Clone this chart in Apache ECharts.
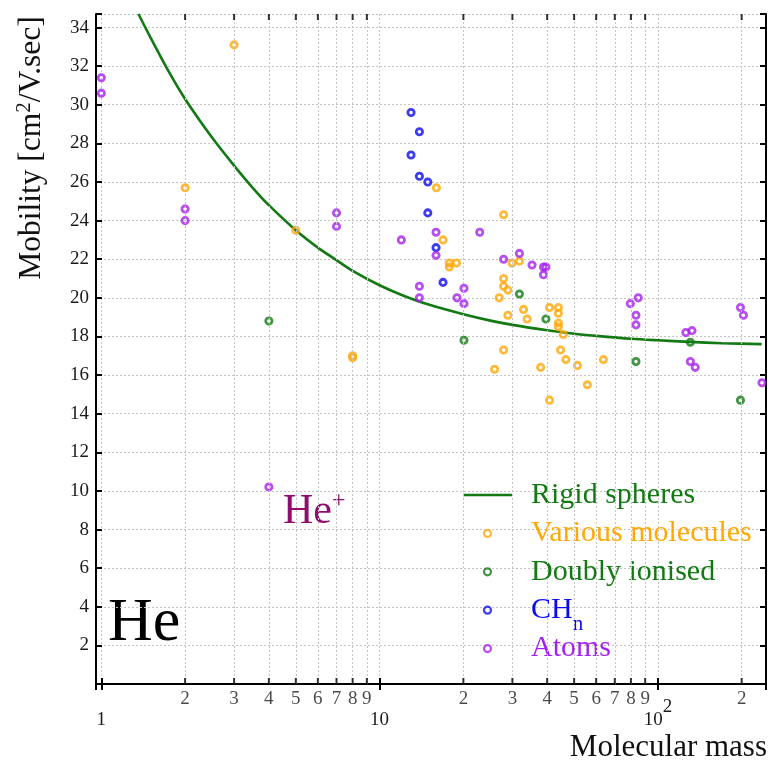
<!DOCTYPE html>
<html>
<head>
<meta charset="utf-8">
<script src="https://cdn.jsdelivr.net/npm/echarts@6/dist/echarts.min.js"></script>
<style>
html, body { margin: 0; padding: 0; background: #fff; }
#chart { width: 771px; height: 761px; }
</style>
</head>
<body>
<div id="chart"></div>
<script>
const serif = "'Liberation Serif', 'DejaVu Serif', serif"

// axis ranges
const xMin = 0.957
const xMax = 244.6
const yMin = 0
const yMax = 34.7

// minor decade ticks and their labels
const minorTicks = [2, 3, 4, 5, 6, 7, 8, 9, 20, 30, 40, 50, 60, 70, 80, 90, 200]
const minorTickLabels = ["2", "3", "4", "5", "6", "7", "8", "9", "2", "3", "4", "5", "6", "7", "8", "9", "2"]

// rigid spheres curve
const curveMass = [1.36, 1.5, 1.75, 2, 2.5, 3, 3.5, 4, 5, 6, 7, 8, 10, 12, 15, 20, 25, 30, 40, 50, 60, 80, 100, 130, 170, 236]
const curveMobility = [34.7, 33.5, 31.7, 30.3, 28.3, 26.85, 25.7, 24.8, 23.5, 22.6, 21.95, 21.4, 20.65, 20.15, 19.65, 19.15, 18.82, 18.6, 18.32, 18.14, 18.03, 17.88, 17.8, 17.72, 17.65, 17.6]

// various molecules
const molMass = [2, 3, 5, 8, 8, 16, 16.9, 17.8, 17.8, 18.9, 27.9, 27.9, 27.9, 28.9, 26.9, 28.9, 27.9, 25.9, 29.9, 31.8, 32.9, 33.9, 37.9, 40.8, 40.8, 43.9, 43.9, 43.9, 43.9, 45.7, 44.7, 46.7, 51.4, 55.8, 63.7]
const molMobility = [25.7, 33.1, 23.5, 17.0, 16.9, 25.7, 23.0, 21.8, 21.6, 21.8, 24.3, 21.0, 20.6, 20.4, 20.0, 19.1, 17.3, 16.3, 21.8, 21.9, 19.4, 18.9, 16.4, 19.5, 14.7, 19.5, 19.2, 18.7, 18.5, 18.1, 17.3, 16.8, 16.5, 15.5, 16.8]

// doubly ionised
const dblMass = [4, 20.1, 31.8, 39.6, 83.4, 130.8, 198]
const dblMobility = [18.8, 17.8, 20.2, 18.9, 16.7, 17.7, 14.7]

// CHn
const chMass = [12.97, 13.9, 12.97, 13.9, 14.9, 14.9, 15.95, 16.9]
const chMobility = [29.6, 28.6, 27.4, 26.3, 26.0, 24.4, 22.6, 20.8]

// atoms
const atomMass = [1, 1, 2, 2, 4, 7, 7, 11.97, 13.9, 13.9, 15.95, 15.95, 18.97, 20.1, 20.1, 22.9, 27.9, 31.8, 35.3, 38.8, 39.6, 38.8, 79.6, 85, 83.4, 83.4, 126, 132.6, 130.8, 136.2, 198, 203, 236.6]
const atomMobility = [31.4, 30.6, 24.6, 24.0, 10.2, 24.4, 23.7, 23.0, 20.6, 20.0, 23.4, 22.2, 20.0, 20.5, 19.7, 23.4, 22.0, 22.3, 21.7, 21.6, 21.6, 21.2, 19.7, 20.0, 19.1, 18.6, 18.2, 18.3, 16.7, 16.4, 19.5, 19.1, 15.6]

const green = "#137a13"
const orange = "#ffa806"
const blue = "#0a0af0"
const purple = "#a422ee"
const heColor = "#8f0d6d"

const pairs = (xs, ys) => xs.map((x, i) => [x, ys[i]])

const gridLine = { type: [2, 2], color: "#c4c4c4", width: 1 }
const frameLine = { color: "#000", width: 2 }
const frameTick = { inside: true, length: 6, lineStyle: { color: "#000", width: 2 } }

const scatter = (name, xs, ys, color) => ({
	name: name,
	type: "scatter",
	data: pairs(xs, ys),
	symbol: "circle",
	symbolSize: 6.3,
	itemStyle: { color: "rgba(255,255,255,0)", borderColor: color, borderWidth: 2.8 },
	z: 4
})

const legendItem = (name, color) => ({
	name: name,
	icon: "circle",
	itemStyle: { color: "rgba(255,255,255,0)", borderColor: color, borderWidth: 2.2 },
	textStyle: { color: color }
})

const chart = echarts.init(document.getElementById("chart"))

const option = {
	animation: false,
	backgroundColor: "#fff",
	grid: { left: 96, right: 5, top: 14, bottom: 77, outerBoundsMode: "none" },
	xAxis: [
		{
			type: "log",
			logBase: 10,
			min: xMin,
			max: xMax,
			axisLine: { show: true, lineStyle: frameLine },
			axisTick: frameTick,
			splitLine: { show: true, lineStyle: gridLine },
			axisLabel: {
				margin: 14,
				color: "#1a1a1a",
				fontFamily: serif,
				fontSize: 19,
				formatter: v => {
					const l = Math.log10(v)
					const e = Math.round(l)
					if (Math.abs(l - e) > 1e-6) return ""
					return e === 2 ? "{b|10}{s|2}" : "{b|" + Math.pow(10, e) + "}"
				},
				rich: {
					b: { fontFamily: serif, fontSize: 19, lineHeight: 44, color: "#1a1a1a" },
					s: { fontFamily: serif, fontSize: 19, lineHeight: 18, verticalAlign: "top", color: "#1a1a1a" }
				}
			}
		},
		{
			type: "log",
			logBase: 10,
			min: xMin,
			max: xMax,
			position: "top",
			axisLine: { show: true, lineStyle: frameLine },
			axisTick: frameTick,
			splitLine: { show: false },
			axisLabel: { show: false }
		}
	],
	yAxis: [
		{
			type: "value",
			min: yMin,
			max: yMax,
			interval: 2,
			axisLine: { show: true, lineStyle: frameLine },
			axisTick: frameTick,
			splitLine: { show: true, lineStyle: gridLine },
			axisLabel: {
				margin: 7,
				color: "#1a1a1a",
				fontFamily: serif,
				fontSize: 19,
				formatter: v => (v > 0 && v % 2 === 0 ? String(v) : "")
			}
		},
		{
			type: "value",
			min: yMin,
			max: yMax,
			interval: 2,
			position: "right",
			axisLine: { show: true, lineStyle: frameLine },
			axisTick: frameTick,
			splitLine: { show: false },
			axisLabel: { show: false }
		}
	],
	legend: {
		orient: "vertical",
		left: 463,
		top: 470,
		padding: 0,
		itemWidth: 49,
		itemHeight: 7,
		itemGap: -11.6,
		selectedMode: false,
		textStyle: {
			fontFamily: serif,
			fontSize: 30,
			lineHeight: 50,
			padding: [0, 0, 0, 14]
		},
		formatter: name => (name === "CHn" ? "{m|CH}{s|n}" : name),
		data: [
			{
				name: "Rigid spheres",
				icon: "path://M0,0H49V2.6H0Z",
				itemStyle: { color: green, borderWidth: 0 },
				textStyle: { color: green }
			},
			legendItem("Various molecules", orange),
			legendItem("Doubly ionised", green),
			Object.assign(legendItem("CHn", blue), {
				textStyle: {
					color: blue,
					rich: {
						m: { fontFamily: serif, fontSize: 30, lineHeight: 50, color: blue },
						s: { fontFamily: serif, fontSize: 21, lineHeight: 1, verticalAlign: "bottom", color: blue }
					}
				}
			}),
			legendItem("Atoms", purple)
		]
	},
	series: [
		{
			name: "Rigid spheres",
			type: "line",
			data: pairs(curveMass, curveMobility),
			smooth: 0.3,
			symbol: "none",
			lineStyle: { color: green, width: 2.6 },
			itemStyle: { color: green },
			z: 3
		},
		scatter("Various molecules", molMass, molMobility, orange),
		scatter("Doubly ionised", dblMass, dblMobility, green),
		scatter("CHn", chMass, chMobility, blue),
		scatter("Atoms", atomMass, atomMobility, purple),
		{
			name: "minor-bottom",
			type: "scatter",
			silent: true,
			clip: false,
			data: minorTicks.map(v => [v, yMin]),
			symbol: "rect",
			symbolSize: [2, 6],
			symbolOffset: [0, -3],
			itemStyle: { color: "#000" },
			label: {
				show: true,
				position: "bottom",
				distance: 6,
				color: "#1a1a1a",
				fontFamily: serif,
				fontSize: 19,
				formatter: p => minorTickLabels[p.dataIndex]
			},
			markLine: {
				silent: true,
				symbol: "none",
				label: { show: false },
				lineStyle: gridLine,
				data: minorTicks.map(v => ({ xAxis: v }))
			},
			z: 5
		},
		{
			name: "minor-top",
			type: "scatter",
			silent: true,
			clip: false,
			data: minorTicks.map(v => [v, yMax]),
			symbol: "rect",
			symbolSize: [2, 6],
			symbolOffset: [0, 3],
			itemStyle: { color: "#000" },
			z: 5
		}
	],
	graphic: [
		{
			type: "text",
			x: 32,
			y: 148,
			rotation: Math.PI / 2,
			style: {
				text: "{t|Mobility [cm}{s|2}{t|/V.sec]}",
				align: "center",
				verticalAlign: "middle",
				fill: "#111",
				rich: {
					t: { fontFamily: serif, fontSize: 31.5, lineHeight: 36, fill: "#111" },
					s: { fontFamily: serif, fontSize: 21, lineHeight: 20, verticalAlign: "top", fill: "#111" }
				}
			}
		},
		{
			type: "text",
			x: 767,
			y: 748,
			style: {
				text: "Molecular mass",
				align: "right",
				verticalAlign: "middle",
				fill: "#111",
				font: "31px " + serif
			}
		},
		{
			type: "text",
			x: 108,
			y: 624,
			style: {
				text: "He",
				align: "left",
				verticalAlign: "middle",
				fill: "#000",
				font: "62px " + serif
			}
		},
		{
			type: "text",
			x: 283,
			y: 512,
			style: {
				text: "{a|He}{b|+}",
				align: "left",
				verticalAlign: "middle",
				fill: heColor,
				rich: {
					a: { fontFamily: serif, fontSize: 42, lineHeight: 46, fill: heColor },
					b: { fontFamily: serif, fontSize: 24, lineHeight: 34, verticalAlign: "top", fill: heColor }
				}
			}
		}
	]
}

chart.setOption(option)
</script>
</body>
</html>
